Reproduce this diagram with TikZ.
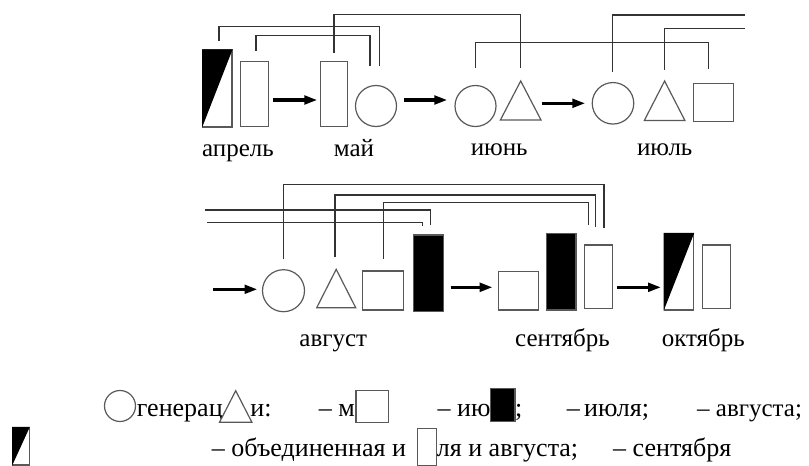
\documentclass[tikz,border=0pt]{standalone}
\usepackage{fontspec}
\setmainfont{Liberation Serif}
\usetikzlibrary{arrows.meta}

\tikzset{
  outline/.style={draw=black!65, line width=1.2pt},
  box/.style 2 args={rectangle, outline, inner sep=0pt, minimum width=#1, minimum height=#2},
  ring/.style={circle, outline, inner sep=0pt, minimum size=#1},
  link/.style={draw=black!80, line width=1.1pt},
  flow/.style={line width=3.6pt, -{Triangle[length=13pt, width=8.5pt]}},
  month/.style={inner sep=0pt, anchor=base, font=\fontsize{25}{30}\selectfont},
  legend/.style={inner sep=0pt, font=\fontsize{26}{31}\selectfont},
}

\begin{document}
\begin{tikzpicture}[x=1pt, y=-1pt]
\useasboundingbox (0,0) rectangle (809,466);

% ---------- first row: April -- July ----------
\node[box={29.3pt}{77pt}]   (aprA) at (217.3,88.5) {};
\fill (aprA.north west) -- (aprA.north east) -- (aprA.south west) -- cycle;
\node[box={28pt}{65pt}]     (aprB) at (254.7,94.2) {};
\node[box={26.7pt}{65pt}]   (mayR) at (334,94.2) {};
\node[ring=41pt]            (mayC) at (376,106) {};
\node[ring=41pt]            (junC) at (475.5,106) {};
\coordinate (junT) at (520.7,81);
\draw[outline] (junT) -- ++(20.3,39) -- ++(-40.6,0) -- cycle;
\node[ring=41.5pt]          (julC) at (613,103.3) {};
\coordinate (julT) at (664.6,81);
\draw[outline] (julT) -- ++(20.3,39.5) -- ++(-40.6,0) -- cycle;
\node[box={40pt}{38.4pt}]   (julS) at (713.3,102.5) {};

\draw[flow] ([xshift=3.3pt,yshift=-5.8pt]aprB.east) -- ([xshift=-2.7pt,yshift=-5.8pt]mayR.west);
\draw[flow] ([xshift=6.5pt,yshift=6pt]mayC.east) -- ([xshift=-7pt,yshift=6pt]junC.west);
\draw[flow] ([xshift=21pt,yshift=-22.3pt]junT) -- ([xshift=-6.3pt]julC.west);

\node[month] (lapr) at (238,156.7) {апрель};
\node[month] (lmay) at (354,156.7) {май};
\node[month] (ljun) at (499.2,155.5) {июнь};
\node[month] (ljul) at (664.7,155.5) {июль};

\draw[link] ([xshift=1.7pt,yshift=8.3pt]aprA.north) -- ++(0,-14.4) -| ([xshift=3.3pt,yshift=18.7pt]mayC.north);
\draw[link] ([xshift=1.3pt,yshift=10pt]aprB.north) -- ++(0,-15.7) -| ([xshift=-6pt,yshift=18.7pt]mayC.north);
\draw[link] ([yshift=8.4pt]mayR.north) -- ++(0,-38.3) -| ([yshift=12.7pt]junT);
\draw[link] ([xshift=0.2pt,yshift=17.2pt]junC.north) -- ++(0,-25) -| ([xshift=-4.6pt,yshift=13.3pt]julS.north);
\coordinate (outA) at (745,15);
\coordinate (outB) at (745,28.3);
\draw[link] ([xshift=-0.3pt,yshift=9.9pt]julC.north) |- (outA);
\draw[link] ([yshift=11pt]julT) |- (outB);

% ---------- second row: August -- October ----------
\coordinate (inA) at (205,210);
\coordinate (inB) at (207.3,222.3);
\coordinate (inArrow) at (213.3,289.3);
\node[ring=42pt]            (augC) at (283.5,290.7) {};
\coordinate (augT) at (336.2,269.3);
\draw[outline] (augT) -- ++(19.5,38.4) -- ++(-39,0) -- cycle;
\node[box={40.6pt}{39pt}]   (augS) at (383,290.5) {};
\node[box={30pt}{76.7pt}, fill=black] (augB) at (428.3,273.3) {};
\node[box={40pt}{38.3pt}]   (sepS) at (518.3,290.8) {};
\node[box={29.3pt}{76.7pt}, fill=black] (sepB) at (561.3,271.7) {};
\node[box={27.6pt}{63.3pt}] (sepR) at (598.5,276.7) {};
\node[box={29.4pt}{76.7pt}] (octA) at (679,271.7) {};
\fill (octA.north west) -- (octA.north east) -- (octA.south west) -- cycle;
\node[box={28pt}{63.3pt}]   (octR) at (716.7,276.7) {};

\draw[flow] (inArrow) -- ([xshift=-4.4pt,yshift=1.4pt]augC.west);
\draw[flow] ([xshift=6.7pt,yshift=-14pt]augB.east) -- ([xshift=-5pt,yshift=3.5pt]sepS.west);
\draw[flow] ([xshift=4.4pt,yshift=-10.6pt]sepR.east) -- ([xshift=-2.6pt,yshift=-15.6pt]octA.west);

\node[month] (laug) at (333.3,346.7) {август};
\node[month] (lsep) at (562.5,346.3) {сентябрь};
\node[month] (loct) at (703.3,346.3) {октябрь};

\draw[link] (inA) -| ([xshift=2.4pt,yshift=9pt]augB.north);
\draw[link] (inB) -| ([xshift=-6pt,yshift=8.3pt]augB.north);
\draw[link] ([xshift=-0.2pt,yshift=9.7pt]augC.north) -- ++(0,-75) -| ([xshift=5.5pt,yshift=16.7pt]sepR.north);
\draw[link] ([xshift=-1.2pt,yshift=12pt]augT) -- ++(0,-62.3) -| ([xshift=-2.8pt,yshift=17.7pt]sepR.north);
\draw[link] ([xshift=0.3pt,yshift=11.7pt]augS.north) -- ++(0,-56.6) -| ([xshift=-10.2pt,yshift=19pt]sepR.north);

% ---------- legend ----------
\node[ring=31pt] (kC) at (120,406) {};
\node[legend, anchor=base west] (k1) at (136.7,416.7) {генерац};
\coordinate (kT) at (235.7,390.7);
\filldraw[outline, fill=white] (kT) -- ++(16.2,31.6) -- ++(-32.4,0) -- cycle;
\node[legend, anchor=base east] (k2) at (271.7,416.7) {и:};
\node[legend, anchor=base east] (k3) at (355,416.7) {– м};
\node[box={32.3pt}{31.6pt}, fill=white] (kS) at (372.2,406.5) {};
\node[legend, anchor=base east] (k4) at (490.7,416.7) {– ию};
\node[box={24.3pt}{33.4pt}, fill=black] (kB) at (502.9,405) {};
\node[legend, anchor=base west] (k5) at (515,416.7) {;};
\node[legend, anchor=base west] (k6) at (566.7,416.7) {–\,июля;};
\node[legend, anchor=base west, font=\fontsize{25}{30}\selectfont] (k7) at (697,416.7) {– августа;};

\node[box={16.6pt}{37.7pt}] (kA) at (21,446.2) {};
\fill (kA.north west) -- (kA.north east) -- (kA.south west) -- cycle;
\node[legend, anchor=base west] (k8) at (211.7,456) {– объединенная и};
\node[box={19.4pt}{37.4pt}, fill=white] (kR) at (427,446.9) {};
\node[legend, anchor=base west] (k9) at (436.7,456) {ля и августа;};
\node[legend, anchor=base west] (k10) at (613,456) {– сентября};
\end{tikzpicture}
\end{document}
